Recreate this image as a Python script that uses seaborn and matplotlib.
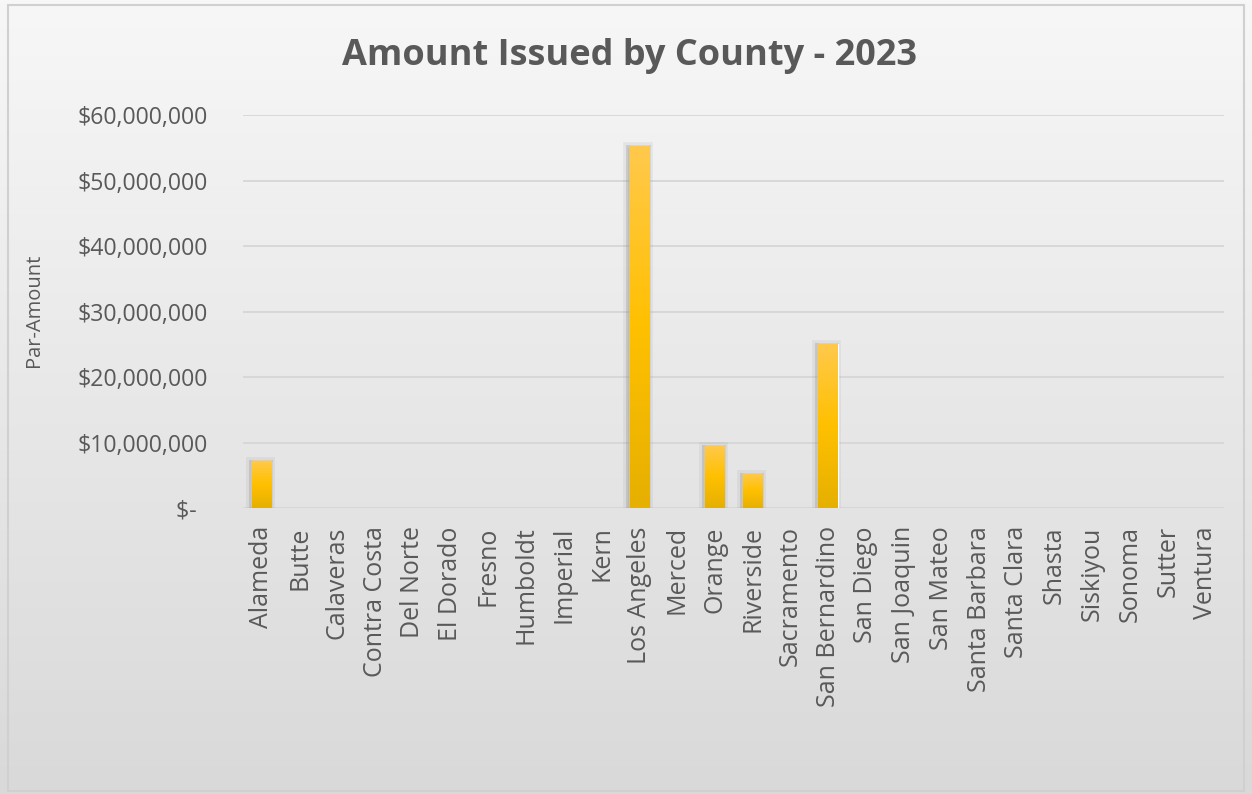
import numpy as np
import pandas as pd
import matplotlib
matplotlib.use('Agg')
import matplotlib.pyplot as plt
import matplotlib.patheffects as pe
from matplotlib.colors import LinearSegmentedColormap
from matplotlib.patches import Rectangle
import seaborn as sns

counties = ['Alameda', 'Butte', 'Calaveras', 'Contra Costa', 'Del Norte', 'El Dorado',
            'Fresno', 'Humboldt', 'Imperial', 'Kern', 'Los Angeles', 'Merced', 'Orange',
            'Riverside', 'Sacramento', 'San Bernardino', 'San Diego', 'San Joaquin',
            'San Mateo', 'Santa Barbara', 'Santa Clara', 'Shasta', 'Siskiyou', 'Sonoma',
            'Sutter', 'Ventura']
amounts = [7200000, 0, 0, 0, 0, 0,
           0, 0, 0, 0, 55300000, 0, 9500000,
           5200000, 0, 25100000, 0, 0,
           0, 0, 0, 0, 0, 0,
           0, 0]
yticks = [0, 10000000, 20000000, 30000000, 40000000, 50000000, 60000000]

df = pd.DataFrame({'county': counties, 'amount': amounts})

sns.set_theme(style='white')
plt.rcParams['font.family'] = ['Open Sans', 'DejaVu Sans']
txt = '#595959'

fig = plt.figure(figsize=(12.52, 7.94), dpi=100)

# chart area background: light-to-darker grey gradient plus thin border
bg = fig.add_axes([0, 0, 1, 1], zorder=-10)
grad = np.linspace(0, 1, 256).reshape(-1, 1)
bg_cmap = LinearSegmentedColormap.from_list('bg', ['#f7f7f7', '#d9d9d9'])
bg.imshow(grad, aspect='auto', cmap=bg_cmap, extent=[0, 1, 0, 1], origin='upper')
bg.add_patch(Rectangle((0.006, 0.004), 0.988, 0.99, fill=False, edgecolor='#d0d0d0', lw=1.5))
bg.set_xlim(0, 1)
bg.set_ylim(0, 1)
bg.axis('off')

ax = fig.add_axes([0.194, 0.360, 0.784, 0.495])
ax.patch.set_alpha(0)
sns.barplot(data=df, x='county', y='amount', color='#ffc000', width=0.51, ax=ax, zorder=3)

# gold gradient on every bar, soft grey edge as shadow
bar_cmap = LinearSegmentedColormap.from_list('bar', ['#ffc94d', '#ffc000', '#e6b000'])
for p in ax.patches:
    h = p.get_height()
    if h <= 0:
        p.set_visible(False)
        continue
    x0 = p.get_x()
    w = p.get_width()
    p.set_path_effects([pe.Stroke(offset=(-1, -1), linewidth=7, foreground='#8c8c8c', alpha=0.12),
                        pe.Stroke(offset=(-1, -1), linewidth=3.5, foreground='#8c8c8c', alpha=0.3),
                        pe.Normal()])
    im = ax.imshow(grad, aspect='auto', cmap=bar_cmap, extent=[x0, x0 + w, 0, h],
                   origin='upper', zorder=4)
    im.set_clip_path(p)

ax.set_xlim(-0.5, len(counties) - 0.5)
ax.set_ylim(0, 60000000)
ax.set_yticks(yticks)
ax.set_yticklabels(['$-  ' if v == 0 else '${:,.0f}'.format(v) for v in yticks])
ax.yaxis.grid(True, color='#d4d4d4', lw=1.2, zorder=0)
ax.set_axisbelow(True)
for s in ax.spines.values():
    s.set_visible(False)
ax.tick_params(axis='y', labelsize=16.7, colors=txt, length=0, pad=25)
ax.tick_params(axis='x', labelsize=18, colors=txt, length=0, pad=13)
plt.setp(ax.get_xticklabels(), rotation=90)
ax.set_xlabel('')
ax.set_ylabel('')

fig.text(34 / 1252, 1 - 310 / 794, 'Par-Amount', rotation=90, ha='center', va='center',
         fontsize=14.5, color=txt)
fig.text(0.503, 0.929, 'Amount Issued by County - 2023', ha='center', va='center',
         fontsize=26, fontweight='bold', color=txt)

fig.savefig('out.png', dpi=100)
